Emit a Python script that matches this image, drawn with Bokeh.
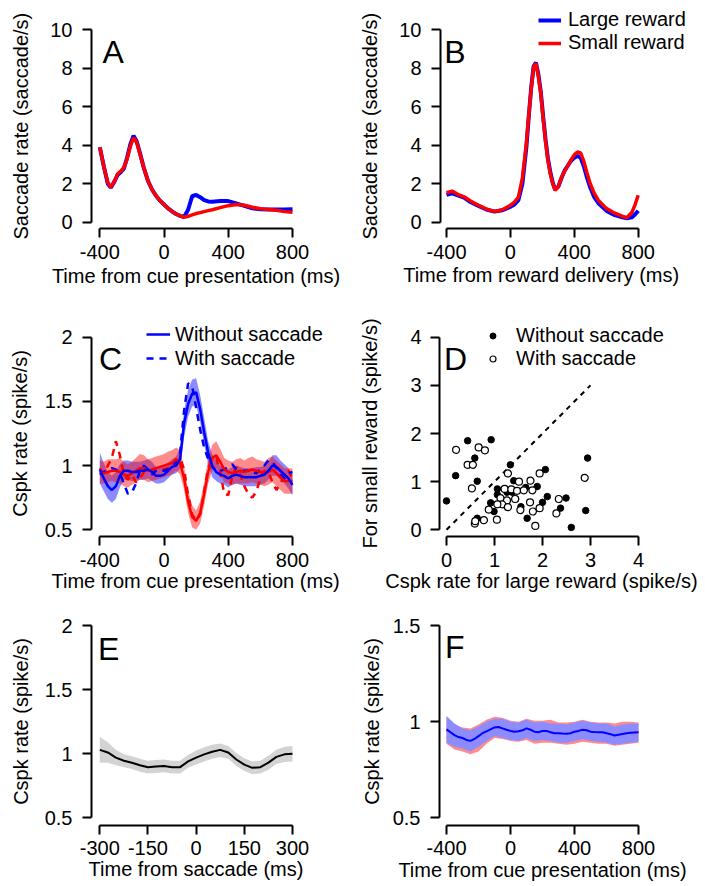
from bokeh.plotting import figure
from bokeh.models import (Range1d, FixedTicker, Label, Legend, LegendItem,
                          CustomJSTickFormatter, Title)
from bokeh.layouts import column, row
from bokeh.embed import file_html
from bokeh.resources import INLINE

FONT = "Liberation Sans"
BLUE = "#0000ff"
RED = "#ff0000"

# ---------------- Panel A: saccade rate vs cue ----------------
a_t = [-400, -375, -350, -332, -310, -290, -270, -250, -230, -210,
       -190, -170, -150, -125, -100, -75, -50, -25, 0, 25,
       50, 75, 100, 125, 150, 175, 200, 225, 250, 275,
       300, 350, 400, 450, 500, 550, 600, 650, 700, 750, 800]
a_large = [3.9, 2.9, 2.0, 1.8, 2.1, 2.45, 2.6, 2.8, 3.35, 4.05,
           4.5, 4.2, 3.6, 2.8, 2.15, 1.7, 1.38, 1.12, 0.92, 0.72,
           0.56, 0.43, 0.33, 0.27, 0.65, 1.35, 1.42, 1.3, 1.15, 1.08,
           1.06, 1.1, 1.1, 0.98, 0.85, 0.72, 0.67, 0.66, 0.66, 0.66, 0.67]
a_small = [3.9, 2.9, 2.05, 1.83, 2.1, 2.5, 2.65, 2.85, 3.3, 3.95,
           4.4, 4.15, 3.55, 2.8, 2.15, 1.7, 1.38, 1.12, 0.92, 0.72,
           0.56, 0.43, 0.33, 0.27, 0.3, 0.38, 0.45, 0.5, 0.55, 0.6,
           0.65, 0.76, 0.86, 0.92, 0.88, 0.78, 0.70, 0.66, 0.62, 0.55, 0.52]

# ---------------- Panel B: saccade rate vs reward ----------------
b_t = [-400, -365, -330, -290, -250, -200, -150, -100, -50, 0,
       25, 50, 75, 100, 115, 130, 145, 160, 175, 190,
       205, 220, 235, 250, 265, 280, 300, 320, 340, 360,
       380, 400, 420, 440, 460, 480, 500, 525, 550, 600,
       650, 700, 730, 760, 780, 800]
b_large = [1.42, 1.5, 1.4, 1.28, 1.05, 0.85, 0.66, 0.55, 0.62, 0.8,
           0.92, 1.15, 2.0, 3.9, 5.5, 7.0, 8.1, 8.3, 7.7, 6.8,
           5.5, 4.3, 3.3, 2.6, 2.05, 1.7, 1.85, 2.3, 2.7, 2.95,
           3.2, 3.35, 3.45, 3.35, 2.9, 2.3, 1.8, 1.3, 1.0, 0.6,
           0.38, 0.25, 0.2, 0.25, 0.4, 0.6]
b_small = [1.53, 1.62, 1.45, 1.32, 1.1, 0.88, 0.68, 0.56, 0.65, 0.88,
           1.05, 1.3, 2.3, 4.1, 5.6, 6.9, 8.05, 8.25, 7.6, 6.7,
           5.4, 4.2, 3.2, 2.5, 2.0, 1.65, 1.85, 2.35, 2.65, 2.95,
           3.25, 3.5, 3.65, 3.6, 3.15, 2.55, 2.0, 1.5, 1.15, 0.72,
           0.48, 0.31, 0.24, 0.5, 0.9, 1.4]

# ---------------- Panel C: Cspk rate vs cue ----------------
c_t = [-400, -375, -350, -325, -300, -275, -250, -225, -200, -175,
       -150, -125, -100, -75, -50, -25, 0, 25, 50, 75,
       100, 125, 150, 175, 200, 225, 250, 275, 300, 325,
       350, 375, 400, 425, 450, 475, 500, 525, 550, 575,
       600, 625, 650, 675, 700, 725, 750, 775, 800]
c_large_nosac = [0.97, 0.90, 0.84, 0.81, 0.84, 0.92, 0.96, 0.96, 0.95, 0.95,
                 0.96, 0.96, 0.97, 0.95, 0.92, 0.92, 0.93, 0.96, 0.99, 1.00,
                 1.05, 1.33, 1.48, 1.56, 1.57, 1.44, 1.26, 1.10, 1.00, 0.95,
                 0.93, 0.92, 0.90, 0.92, 0.93, 0.92, 0.91, 0.91, 0.91, 0.91,
                 0.92, 0.93, 0.96, 1.00, 0.99, 0.96, 0.93, 0.90, 0.85]
c_large_lo = [0.86, 0.80, 0.74, 0.71, 0.74, 0.83, 0.89, 0.89, 0.88, 0.88,
              0.89, 0.89, 0.90, 0.88, 0.86, 0.86, 0.87, 0.90, 0.93, 0.94,
              0.98, 1.22, 1.38, 1.46, 1.47, 1.34, 1.16, 1.01, 0.91, 0.88,
              0.86, 0.85, 0.83, 0.85, 0.86, 0.85, 0.84, 0.84, 0.84, 0.84,
              0.85, 0.86, 0.89, 0.92, 0.92, 0.89, 0.86, 0.82, 0.77]
c_large_hi = [1.10, 1.02, 0.95, 0.92, 0.95, 1.01, 1.04, 1.04, 1.03, 1.03,
              1.03, 1.04, 1.05, 1.03, 0.99, 0.99, 0.99, 1.02, 1.05, 1.07,
              1.13, 1.43, 1.59, 1.67, 1.68, 1.55, 1.37, 1.19, 1.09, 1.03,
              1.00, 0.99, 0.97, 0.99, 1.00, 0.99, 0.98, 0.98, 0.98, 0.99,
              0.99, 1.00, 1.03, 1.08, 1.08, 1.04, 1.01, 0.98, 0.93]
c_small_nosac = [0.94, 0.94, 0.95, 0.96, 0.96, 0.95, 0.93, 0.92, 0.94, 0.96,
                 0.98, 0.98, 0.96, 0.97, 0.98, 0.99, 1.00, 1.01, 1.02, 1.05,
                 1.02, 0.90, 0.72, 0.60, 0.57, 0.63, 0.78, 0.95, 1.06, 1.08,
                 1.03, 0.97, 0.95, 0.94, 0.95, 0.96, 0.95, 0.96, 0.97, 0.96,
                 0.95, 0.94, 0.95, 0.97, 0.94, 0.91, 0.88, 0.88, 0.88]
c_small_lo = [0.86, 0.86, 0.87, 0.88, 0.87, 0.86, 0.84, 0.83, 0.85, 0.87,
              0.89, 0.89, 0.87, 0.88, 0.89, 0.90, 0.91, 0.92, 0.93, 0.96,
              0.93, 0.81, 0.63, 0.52, 0.50, 0.55, 0.69, 0.86, 0.96, 0.98,
              0.93, 0.87, 0.86, 0.85, 0.86, 0.86, 0.86, 0.86, 0.87, 0.86,
              0.85, 0.84, 0.85, 0.87, 0.84, 0.81, 0.78, 0.78, 0.78]
c_small_hi = [1.04, 1.03, 1.05, 1.05, 1.05, 1.06, 1.03, 1.01, 1.03, 1.06,
              1.09, 1.08, 1.05, 1.06, 1.07, 1.08, 1.09, 1.11, 1.12, 1.14,
              1.12, 0.99, 0.81, 0.69, 0.65, 0.72, 0.87, 1.05, 1.16, 1.19,
              1.13, 1.06, 1.04, 1.03, 1.05, 1.06, 1.04, 1.06, 1.07, 1.05,
              1.04, 1.03, 1.06, 1.07, 1.04, 1.01, 0.98, 0.98, 0.98]
c_large_sac = [0.93, 0.95, 0.97, 0.98, 0.97, 0.94, 0.86, 0.78, 0.79, 0.86,
               0.96, 1.00, 0.97, 0.93, 0.96, 0.97, 0.96, 0.97, 1.00, 1.03,
               1.10, 1.43, 1.64, 1.62, 1.45, 1.28, 1.14, 1.05, 0.99, 0.96,
               0.96, 0.97, 0.99, 1.01, 0.97, 0.95, 0.96, 0.96, 0.95, 0.94,
               0.97, 1.00, 1.04, 1.03, 0.98, 0.93, 0.90, 0.94, 0.95]
c_small_sac = [0.98, 0.94, 1.00, 1.06, 1.19, 1.08, 0.93, 0.89, 0.93, 0.87,
               0.90, 0.95, 0.95, 0.96, 0.98, 0.97, 0.97, 0.98, 1.00, 1.01,
               1.06, 0.97, 0.77, 0.62, 0.57, 0.62, 0.80, 0.98, 1.05, 1.06,
               0.95, 0.78, 0.77, 0.92, 0.99, 0.93, 0.84, 0.78, 0.75, 0.80,
               0.90, 0.96, 0.95, 0.87, 0.81, 0.86, 0.93, 0.96, 0.90]

# ---------------- Panel D: scatter ----------------
d_nosac_x = [0.0, 0.44, 0.93, 0.19, 0.59, 0.64, 0.64, 1.33, 1.06, 0.92,
             0.99, 1.125, 1.40, 2.06, 1.89, 1.65, 1.44, 2.10, 2.0, 1.68,
             1.55, 2.49, 2.375, 2.6, 2.94, 2.9, 1.26, 1.18, 1.37, 1.06]
d_nosac_y = [0.60, 1.85, 1.87, 1.125, 1.49, 1.01, 0.24, 1.35, 0.85, 0.56,
             0.38, 0.64, 1.02, 1.25, 0.90, 0.88, 0.64, 0.69, 0.57, 0.24,
             0.48, 0.66, 0.45, 0.05, 1.49, 0.40, 0.78, 0.60, 0.78, 0.73]
d_sac_x = [0.20, 0.67, 0.80, 0.44, 0.55, 0.53, 0.59, 0.60, 0.78, 1.05,
           0.88, 1.28, 1.51, 1.75, 1.94, 1.21, 1.35, 1.47, 1.79, 1.125,
           1.26, 1.16, 1.28, 1.74, 1.54, 1.80, 1.94, 2.29, 2.34, 1.85,
           2.88, 1.06, 1.43, 1.61]
d_sac_y = [1.66, 1.71, 1.65, 1.35, 1.35, 0.86, 0.13, 0.18, 0.20, 0.21,
           0.42, 1.17, 1.00, 1.02, 1.17, 0.85, 0.84, 0.81, 0.82, 0.66,
           0.61, 0.53, 0.47, 0.57, 0.41, 0.38, 0.45, 0.34, 0.64, 0.08,
           1.08, 0.53, 0.64, 0.82]
d_diag_x = [0, 3]
d_diag_y = [0, 3]

# ---------------- Panel E: Cspk vs saccade ----------------
e_t = [-300, -275, -250, -225, -200, -175, -150, -125, -100, -75,
       -50, -25, 0, 25, 50, 75, 100, 125, 150, 175,
       200, 225, 250, 275, 300]
e_mean = [1.03, 1.01, 0.97, 0.945, 0.93, 0.91, 0.895, 0.9, 0.905, 0.895,
          0.895, 0.94, 0.97, 0.995, 1.015, 1.03, 1.01, 0.955, 0.915, 0.89,
          0.895, 0.93, 0.975, 0.995, 1.0]
e_hi = [1.13, 1.09, 1.03, 0.995, 0.98, 0.96, 0.945, 0.95, 0.955, 0.945,
        0.945, 0.99, 1.025, 1.05, 1.07, 1.08, 1.06, 1.005, 0.965, 0.94,
        0.945, 0.985, 1.03, 1.055, 1.06]
e_lo = [0.93, 0.93, 0.91, 0.895, 0.88, 0.86, 0.845, 0.85, 0.855, 0.845,
        0.845, 0.89, 0.915, 0.94, 0.96, 0.975, 0.96, 0.905, 0.865, 0.84,
        0.845, 0.875, 0.92, 0.935, 0.94]

# ---------------- Panel F: Cspk vs cue (no-saccade trials) ----------------
f_t = [-400, -375, -350, -325, -300, -275, -250, -225, -200, -175,
       -150, -125, -100, -75, -50, -25, 0, 25, 50, 75,
       100, 125, 150, 175, 200, 225, 250, 275, 300, 325,
       350, 375, 400, 425, 450, 475, 500, 525, 550, 575,
       600, 625, 650, 675, 700, 725, 750, 775, 800]
f_large = [0.96, 0.945, 0.93, 0.92, 0.915, 0.905, 0.9, 0.91, 0.925, 0.94,
           0.95, 0.96, 0.97, 0.972, 0.965, 0.958, 0.952, 0.948, 0.95, 0.955,
           0.965, 0.958, 0.948, 0.945, 0.952, 0.952, 0.945, 0.94, 0.94, 0.938,
           0.937, 0.94, 0.948, 0.952, 0.958, 0.955, 0.948, 0.946, 0.945, 0.945,
           0.94, 0.935, 0.928, 0.932, 0.936, 0.94, 0.942, 0.944, 0.945]
f_bt = [-400, -350, -300, -250, -200, -150, -100, -50, 0, 50,
        100, 150, 200, 250, 300, 350, 400, 450, 500, 550,
        600, 650, 700, 750, 800]
f_small = [0.955, 0.93, 0.91, 0.9, 0.918, 0.948, 0.97, 0.965, 0.952, 0.948,
           0.96, 0.945, 0.948, 0.95, 0.94, 0.937, 0.943, 0.953, 0.945, 0.94,
           0.94, 0.933, 0.94, 0.943, 0.943]
f_large_hi = [1.03, 0.99, 0.965, 0.955, 0.975, 1.0, 1.015, 1.015, 1.0, 0.995,
              1.01, 0.995, 1.0, 0.99, 0.99, 0.985, 0.995, 1.005, 0.995, 0.99,
              0.99, 0.975, 0.985, 0.99, 0.99]
f_large_lo = [0.89, 0.87, 0.86, 0.845, 0.87, 0.9, 0.925, 0.915, 0.905, 0.9,
              0.915, 0.9, 0.905, 0.9, 0.89, 0.89, 0.9, 0.91, 0.9, 0.895,
              0.89, 0.88, 0.885, 0.89, 0.895]
f_small_hi = [1.02, 0.985, 0.97, 0.965, 0.985, 1.01, 1.025, 1.02, 1.005, 1.0,
              1.015, 1.005, 1.005, 1.01, 0.995, 0.995, 1.0, 1.01, 1.0, 0.995,
              0.995, 0.99, 1.0, 1.0, 0.995]
f_small_lo = [0.885, 0.855, 0.845, 0.83, 0.845, 0.885, 0.915, 0.91, 0.9, 0.895,
              0.905, 0.885, 0.89, 0.89, 0.885, 0.88, 0.885, 0.895, 0.89, 0.885,
              0.885, 0.875, 0.88, 0.885, 0.89]

# ---------------- ticks ----------------
cue_ticks = [-400, 0, 400, 800]
cue_labels = ["-400", "0", "400", "800"]
sac_ticks = [0, 2, 4, 6, 8, 10]
sac_labels = ["0", "2", "4", "6", "8", "10"]
cspk_ticks = [0.5, 1, 1.5, 2]
cspk_labels = ["0.5", "1", "1.5", "2"]
d_ticks = [0, 1, 2, 3, 4]
d_labels = ["0", "1", "2", "3", "4"]
e_xticks = [-300, -150, 0, 150, 300]
e_xlabels = ["-300", "-150", "0", "150", "300"]
f_yticks = [0.5, 1, 1.5]
f_ylabels = ["0.5", "1", "1.5"]


def make_fig(width, height, xr, yr, borders):
    l, r, t, b = borders
    p = figure(width=width, height=height, title=None,
               x_range=Range1d(xr[0], xr[1]), y_range=Range1d(yr[0], yr[1]),
               output_backend="svg", toolbar_location=None,
               min_border_left=l, min_border_right=r,
               min_border_top=t, min_border_bottom=b)
    p.xgrid.visible = False
    p.ygrid.visible = False
    p.outline_line_color = None
    p.background_fill_color = "white"
    p.border_fill_color = "white"
    return p


def style_axes(p, xticks, xlabels, yticks, ylabels, ystand, xstand=7):
    xa = p.xaxis[0]
    ya = p.yaxis[0]
    for ax in (xa, ya):
        ax.axis_line_width = 2
        ax.axis_line_color = "black"
        ax.major_tick_line_width = 2
        ax.major_tick_line_color = "black"
        ax.major_tick_in = 0
        ax.major_tick_out = 9
        ax.minor_tick_line_color = None
        ax.major_label_text_font = FONT
        ax.major_label_text_font_size = "20px"
        ax.major_label_text_color = "black"
        ax.axis_label_text_font = FONT
        ax.axis_label_text_font_size = "20px"
        ax.axis_label_text_font_style = "normal"
        ax.axis_label_text_color = "black"
        ax.formatter = CustomJSTickFormatter(code="return tick.toString()")
    xa.ticker = FixedTicker(ticks=xticks)
    ya.ticker = FixedTicker(ticks=yticks)
    xa.major_label_overrides = dict(zip(xticks, xlabels))
    ya.major_label_overrides = dict(zip(yticks, ylabels))
    xa.bounds = (xticks[0], xticks[-1])
    ya.bounds = (yticks[0], yticks[-1])
    xa.major_label_standoff = xstand
    ya.major_label_standoff = ystand


def x_axis_label(p, xlab, xstand):
    p.xaxis[0].axis_label = xlab
    p.xaxis[0].axis_label_standoff = xstand


def y_axis_label(p, ylab, ystand):
    p.yaxis[0].axis_label = ylab
    p.yaxis[0].axis_label_standoff = ystand


def x_title(p, xlab, xoff, xstand):
    # x label below the axis, left aligned with an offset from the frame's left
    p.add_layout(Title(text=xlab, align="left", offset=xoff, vertical_align="top",
                       standoff=xstand, text_font=FONT, text_font_size="20px",
                       text_font_style="normal", text_color="black"), "below")


def y_title(p, ylab, yoff, ygap):
    # spacer between the y axis tick labels and the y label
    p.add_layout(Title(text=" ", text_font_size="1px", standoff=ygap,
                       text_font=FONT, text_font_style="normal"), "left")
    p.add_layout(Title(text=ylab, align="left", offset=yoff, vertical_align="bottom",
                       standoff=0, text_font=FONT, text_font_size="20px",
                       text_font_style="normal", text_color="black"), "left")


def letter(p, text, x, y):
    p.add_layout(Label(x=x, y=y, x_units="screen", y_units="screen", text=text,
                       text_font=FONT, text_font_size="32px", text_color="black",
                       text_baseline="alphabetic"))


def legend(p, items, loc, gw, gh, lh, standoff):
    lg = Legend(items=items, location=loc, orientation="vertical",
                border_line_color=None, background_fill_alpha=0,
                padding=0, margin=0, spacing=0,
                glyph_width=gw, glyph_height=gh, label_height=lh,
                label_standoff=standoff, label_text_font=FONT,
                label_text_font_size="20px", label_text_color="black")
    p.add_layout(lg)


# Row 1 frames share the same top/bottom borders (frames are aligned in a row)
# ---------------- A ----------------
pA = make_fig(352, 298, (-451.7, 849.8), (-0.328, 11.118), (91, 52, 8, 70))
style_axes(pA, cue_ticks, cue_labels, sac_ticks, sac_labels, 10)
x_axis_label(pA, "Time from cue presentation (ms)", 3)
y_title(pA, "Saccade rate (saccade/s)", -11, 13)
pA.line(a_t, a_large, line_color=BLUE, line_width=4)
pA.line(a_t, a_small, line_color=RED, line_width=3.5)
letter(pA, "A", 11, 176.3)

# ---------------- B ----------------
pB = make_fig(352, 298, (-437.6, 1215.0), (-0.328, 11.118), (88, 0, 8, 70))
style_axes(pB, cue_ticks, cue_labels, sac_ticks, sac_labels, 10)
x_title(pB, "Time from reward delivery (ms)", -37.3, 5)
y_title(pB, "Saccade rate (saccade/s)", -11, 13)
rb = pB.line(b_t, b_large, line_color=BLUE, line_width=4)
rr = pB.line(b_t, b_small, line_color=RED, line_width=3.5)
letter(pB, "B", 3.8, 176.3)
legend(pB, [LegendItem(label="Large reward", renderers=[rb]),
            LegendItem(label="Small reward", renderers=[rr])],
       (98, 174), 23, 22, 22, 7)

# ---------------- C ----------------
pC = make_fig(352, 302, (-451.7, 1099.0), (0.4478, 2.1222), (91, 12, 23, 64))
style_axes(pC, cue_ticks, cue_labels, cspk_ticks, cspk_labels, 10)
x_title(pC, "Time from cue presentation (ms)", -40, 0)
y_title(pC, "Cspk rate (spike/s)", 19.7, 8)
pC.varea(x=c_t, y1=c_large_lo, y2=c_large_hi, fill_color=BLUE, fill_alpha=0.45)
pC.varea(x=c_t, y1=c_small_lo, y2=c_small_hi, fill_color=RED, fill_alpha=0.45)
pC.line(c_t, c_small_sac, line_color=RED, line_width=2.5, line_dash="7 6")
rc_sac = pC.line(c_t, c_large_sac, line_color=BLUE, line_width=2.5, line_dash="7 6")
pC.line(c_t, c_small_nosac, line_color=RED, line_width=2.5)
rc_nosac = pC.line(c_t, c_large_nosac, line_color=BLUE, line_width=2.5)
letter(pC, "C", 7.4, 177.7)
legend(pC, [LegendItem(label="Without saccade", renderers=[rc_nosac]),
            LegendItem(label="With saccade", renderers=[rc_sac])],
       (55, 166), 24, 24, 24, 5)

# ---------------- D ----------------
pD = make_fig(352, 302, (-0.146, 5.375), (-0.139, 4.326), (87, 0, 23, 64))
style_axes(pD, d_ticks, d_labels, d_ticks, d_labels, 9)
x_title(pD, "Cspk rate for large reward (spike/s)", -54.2, 0)
y_title(pD, "For small reward (spike/s)", -12, 24)
pD.line(d_diag_x, d_diag_y, line_color="black", line_width=2, line_dash="5 5")
rd_no = pD.scatter(d_nosac_x, d_nosac_y, marker="circle", size=6.5,
                   fill_color="black", line_color="black", line_width=1)
rd_sac = pD.scatter(d_sac_x, d_sac_y, marker="circle", size=7,
                    fill_color="white", line_color="black", line_width=1.2)
letter(pD, "D", 4.5, 177.7)
legend(pD, [LegendItem(label="Without saccade", renderers=[rd_no]),
            LegendItem(label="With saccade", renderers=[rd_sac])],
       (46, 166.5), 15, 15, 23, 16)

# ---------------- E ----------------
pE = make_fig(352, 286, (-325.8, 324.95), (0.44, 2.0625), (91, 52, 17, 61))
style_axes(pE, e_xticks, e_xlabels, cspk_ticks, cspk_labels, 10, 6)
x_axis_label(pE, "Time from saccade (ms)", 0)
y_axis_label(pE, "Cspk rate (spike/s)", 10)
pE.varea(x=e_t, y1=e_lo, y2=e_hi, fill_color="#d3d3d3", fill_alpha=1)
pE.line(e_t, e_mean, line_color="black", line_width=2)
letter(pE, "E", 6.5, 176.7)

# ---------------- F ----------------
pF = make_fig(352, 286, (-443.75, 843.75), (0.46, 1.5417), (87, 59, 17, 61))
style_axes(pF, cue_ticks, cue_labels, f_yticks, f_ylabels, 10, 6)
x_axis_label(pF, "Time from cue presentation (ms)", 1)
y_axis_label(pF, "Cspk rate (spike/s)", 7)
pF.varea(x=f_bt, y1=f_small_lo, y2=f_small_hi, fill_color="#ff8c8c", fill_alpha=1)
pF.line(f_bt, f_small, line_color=RED, line_width=2)
pF.varea(x=f_bt, y1=f_large_lo, y2=f_large_hi, fill_color="#8c8cff", fill_alpha=1)
pF.line(f_t, f_large, line_color=BLUE, line_width=2)
letter(pF, "F", 5.5, 178.3)

layout = column(row(pA, pB), row(pC, pD), row(pE, pF))
open("out.html", "w").write(file_html(layout, INLINE))
